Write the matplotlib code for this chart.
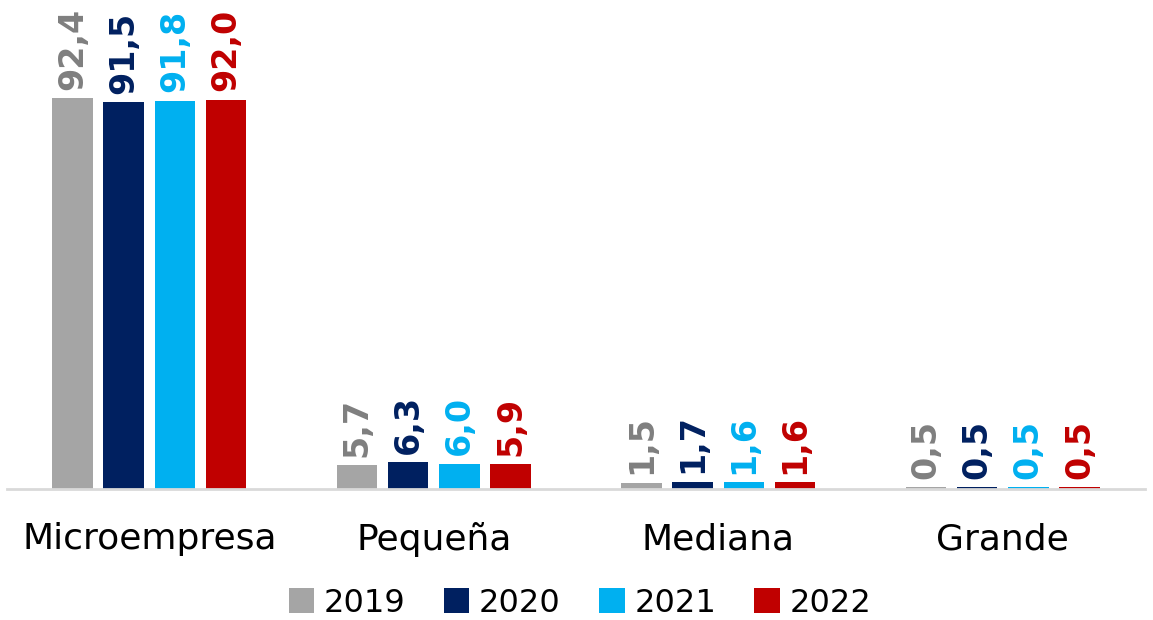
import matplotlib
matplotlib.use("Agg")
import matplotlib.pyplot as plt
import numpy as np

categories = ["Microempresa", "Pequeña", "Mediana", "Grande"]
years = ["2019", "2020", "2021", "2022"]
v2019 = [92.4, 5.7, 1.5, 0.5]
v2020 = [91.5, 6.3, 1.7, 0.5]
v2021 = [91.8, 6.0, 1.6, 0.5]
v2022 = [92.0, 5.9, 1.6, 0.5]
series = [v2019, v2020, v2021, v2022]
bar_colors = ["#a5a5a5", "#002060", "#00b0f0", "#c00000"]
label_colors = ["#7f7f7f", "#002060", "#00b0f0", "#c00000"]

plt.rcParams['font.family'] = ['DejaVu Sans']
fig = plt.figure(figsize=(11.53, 6.2), dpi=100)
ax = fig.add_axes([7/1153, 1 - 489/620, 1138/1153, 489/620])

x = np.arange(len(categories))
width = 0.142
step = 0.18
for i, (vals, c, lc, yr) in enumerate(zip(series, bar_colors, label_colors, years)):
    pos = x + (i - 1.5) * step
    bars = ax.bar(pos, vals, width=width, color=c, label=yr, zorder=2)
    for b, v in zip(bars, vals):
        ax.annotate(f"{v:.1f}".replace(".", ","),
                    (b.get_x() + b.get_width() / 2, v),
                    xytext=(0, 6), textcoords="offset points",
                    rotation=90, ha="center", va="bottom",
                    fontsize=24, fontweight="bold", color=lc)

ax.set_xlim(-0.5, 3.5)
ax.set_ylim(0, 115.6)
ax.set_xticks(x)
ax.set_xticklabels(categories, fontsize=26)
ax.tick_params(axis="x", length=0, pad=24)
ax.set_yticks([])
for s in ["top", "right", "left"]:
    ax.spines[s].set_visible(False)
ax.spines["bottom"].set_color("#d9d9d9")
ax.spines["bottom"].set_linewidth(2)

leg = fig.legend(loc="center", bbox_to_anchor=(580/1153, 1 - 603/620), ncol=4,
                 frameon=False, fontsize=23, handlelength=0.8, handleheight=0.8,
                 handletextpad=0.3, columnspacing=1.2)

fig.savefig("out.png", dpi=100)
